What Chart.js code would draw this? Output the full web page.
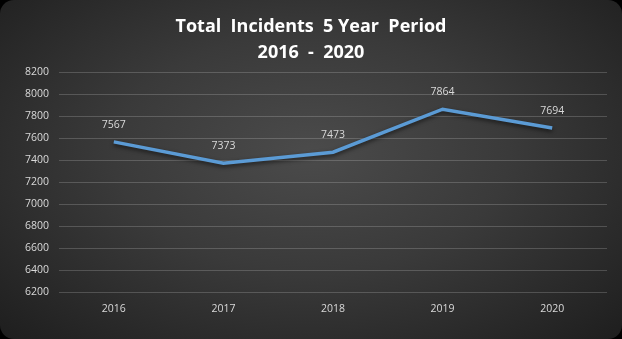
<!DOCTYPE html>
<html>
<head>
<meta charset="utf-8">
<script src="https://cdn.jsdelivr.net/npm/chart.js@4"></script>
<style>
  html, body { margin: 0; padding: 0; background: #000; }
  #wrap {
    width: 622px; height: 339px; border-radius: 14px; overflow: hidden;
    background: radial-gradient(ellipse at 50% 45%, #4b4b4b 0%, #3a3a3a 45%, #1e1e1e 100%);
  }
</style>
</head>
<body>
<div id="wrap"><canvas id="chart" width="622" height="339"></canvas></div>
<script>
const years = ['2016', '2017', '2018', '2019', '2020'];
const incidents = [7567, 7373, 7473, 7864, 7694];
const titleLines = ['Total  Incidents  5 Year  Period', '2016  -  2020'];

// value labels above each point
const pointLabels = {
  id: 'pointLabels',
  afterDatasetsDraw(chart) {
    const ctx = chart.ctx;
    const meta = chart.getDatasetMeta(0);
    ctx.save();
    ctx.fillStyle = '#d9d9d9';
    ctx.font = '10.5px "Open Sans", sans-serif';
    ctx.textAlign = 'center';
    ctx.textBaseline = 'middle';
    meta.data.forEach((pt, i) => {
      ctx.fillText(String(incidents[i]), pt.x, pt.y - 17);
    });
    ctx.restore();
  }
};

// soft shadow under the line and the title
const shadows = {
  id: 'shadows',
  beforeDatasetDraw(chart) {
    chart.ctx.save();
    chart.ctx.shadowColor = 'rgba(0,0,0,0.6)';
    chart.ctx.shadowBlur = 4;
    chart.ctx.shadowOffsetY = 2;
  },
  afterDatasetDraw(chart) {
    chart.ctx.restore();
  }
};

new Chart(document.getElementById('chart'), {
  type: 'line',
  data: {
    labels: years,
    datasets: [{
      data: incidents,
      borderColor: '#5b9bd5',
      borderWidth: 3.5,
      pointRadius: 0,
      tension: 0,
      fill: false
    }]
  },
  options: {
    responsive: false,
    animation: false,
    layout: { padding: { left: 15, right: 15, bottom: 14, top: 0 } },
    plugins: {
      legend: { display: false },
      tooltip: { enabled: false },
      title: {
        display: true,
        text: titleLines,
        color: '#ffffff',
        font: { family: '"Open Sans", sans-serif', size: 18, weight: 'bold', lineHeight: 1.45 },
        padding: { top: 14, bottom: 6 }
      }
    },
    scales: {
      x: {
        offset: true,
        grid: { display: false, drawTicks: false },
        border: { display: false },
        ticks: { color: '#d9d9d9', font: { family: '"Open Sans", sans-serif', size: 10.5 }, padding: 10 }
      },
      y: {
        min: 6200,
        max: 8200,
        ticks: {
          stepSize: 200,
          color: '#d9d9d9',
          font: { family: '"Open Sans", sans-serif', size: 10.5 },
          padding: 10,
          callback: v => String(v)
        },
        grid: { color: 'rgba(255,255,255,0.18)', drawTicks: false },
        border: { display: false }
      }
    }
  },
  plugins: [pointLabels, shadows]
});
</script>
</body>
</html>
